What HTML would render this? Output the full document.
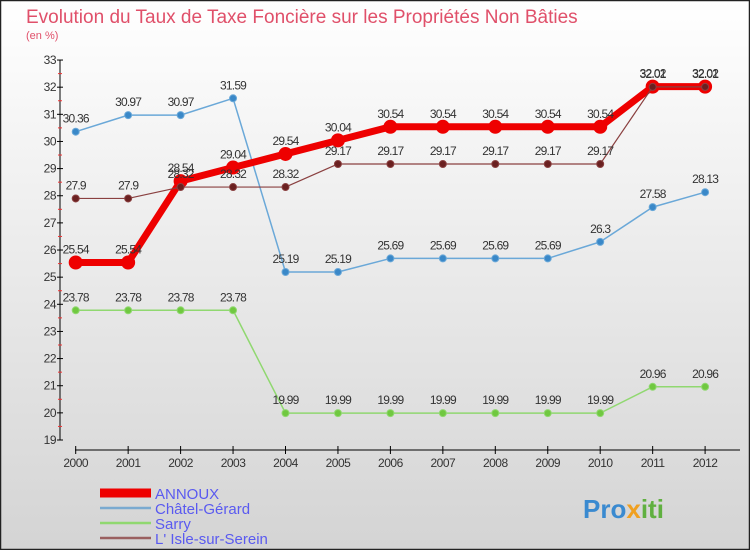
<!DOCTYPE html>
<html><head><meta charset="utf-8"><style>
body{margin:0}
#c{width:750px;height:550px;position:relative;font-family:"Liberation Sans",sans-serif}
</style></head><body>
<div id="c">
<svg id="s" width="750" height="550" xmlns="http://www.w3.org/2000/svg">
<defs><linearGradient id="bg" x1="0" y1="0" x2="0" y2="1"><stop offset="0" stop-color="#ffffff"/><stop offset="1" stop-color="#d4d4d4"/></linearGradient></defs>
<rect x="0.5" y="0.5" width="749" height="549" fill="url(#bg)" stroke="#222" stroke-width="1.5"/>
<text x="26" y="23" font-size="19" fill="#e0506a">Evolution du Taux de Taxe Foncière sur les Propriétés Non Bâties</text>
<text x="26" y="39" font-size="11" fill="#e0506a">(en %)</text>
<g id="axes"></g><g id="series"></g><g id="legend"></g>
<text x="583" y="518" font-size="26" font-weight="bold" fill="#3a8ad0">Pro<tspan fill="#f0a020">x</tspan><tspan fill="#60b040">iti</tspan></text>
</svg></div>
<script>
const years=["2000","2001","2002","2003","2004","2005","2006","2007","2008","2009","2010","2011","2012"];
const yTicks=[19,20,21,22,23,24,25,26,27,28,29,30,31,32,33];
const annoux=[25.54,25.54,28.54,29.04,29.54,30.04,30.54,30.54,30.54,30.54,30.54,32.02,32.02];
const chatel=[30.36,30.97,30.97,31.59,25.19,25.19,25.69,25.69,25.69,25.69,26.3,27.58,28.13];
const sarry=[23.78,23.78,23.78,23.78,19.99,19.99,19.99,19.99,19.99,19.99,19.99,20.96,20.96];
const isle=[27.9,27.9,28.32,28.32,28.32,29.17,29.17,29.17,29.17,29.17,29.17,32.01,32.01];
const NS="http://www.w3.org/2000/svg";
const X=i=>75.7+i*52.45, Y=v=>440-(v-19)*27.14;
function mk(t,a,p){const e=document.createElementNS(NS,t);for(const k in a)e.setAttribute(k,a[k]);p.appendChild(e);return e;}
const ax=document.getElementById('axes');
let e=mk('line',{x1:60,y1:60,x2:60,y2:440,stroke:'#000'},ax);

e=mk('line',{x1:75,y1:450,x2:740,y2:450,stroke:'#000'},ax);

yTicks.forEach((v,i)=>{
 mk('line',{x1:57,x2:63,y1:Y(v),y2:Y(v),stroke:'#000'},ax);
 if(i<yTicks.length-1)mk('line',{x1:58,x2:62,y1:Y(v+0.5),y2:Y(v+0.5),stroke:'#e33'},ax);
 const t=mk('text',{x:56,y:Y(v)+4,'font-size':12,'text-anchor':'end',fill:'#333','letter-spacing':'-0.5'},ax);t.textContent=v;
 
});
years.forEach((y,i)=>{
 mk('line',{x1:X(i),x2:X(i),y1:446,y2:454,stroke:'#000'},ax);
 const t=mk('text',{x:X(i),y:467,'font-size':12,'text-anchor':'middle',fill:'#333','letter-spacing':'-0.5'},ax);t.textContent=y;
 
});
const sg=document.getElementById('series');
function series(vals,color,w,r,dot,name){
 const g=mk('g',{},sg);
 
 mk('polyline',{points:vals.map((v,i)=>X(i)+','+Y(v)).join(' '),fill:'none',stroke:color,'stroke-width':w,'stroke-linejoin':'round'},g);
 vals.forEach((v,i)=>{
  const c=mk('circle',{cx:X(i),cy:Y(v),r:r,fill:dot,stroke:color,'stroke-width':1},g);
  
  const t=mk('text',{x:X(i),y:Y(v)-9,'font-size':12,'text-anchor':'middle',fill:'#333','letter-spacing':'-0.8'},g);
  t.textContent=String(v);
  
 });
}
series(sarry,'#90d870',1.5,3.5,'#70c840','series-sarry');
series(chatel,'#6aa8d8',1.5,3.5,'#3a88c8','series-chatel-gerard');
series(annoux,'#ee0000',7,6.5,'#ee0000','series-annoux');
series(isle,'#8a4040',1.2,3.5,'#6a2020','series-isle-sur-serein');
const lg=document.getElementById('legend');
const leg=[["ANNOUX","#ee0000",9],["Châtel-Gérard","#7aaad0",2.5],["Sarry","#90d870",2.5],["L' Isle-sur-Serein","#9a6060",2.5]];
leg.forEach((l,i)=>{
 const y=493+i*15;
 const g=mk('g',{},lg);
 
 mk('line',{x1:100,x2:151,y1:y,y2:y,stroke:l[1],'stroke-width':l[2]},g);
 const t=mk('text',{x:155,y:y+6,'font-size':15,fill:'#5a5af0'},g);t.textContent=l[0];
});
</script>
</body></html>
